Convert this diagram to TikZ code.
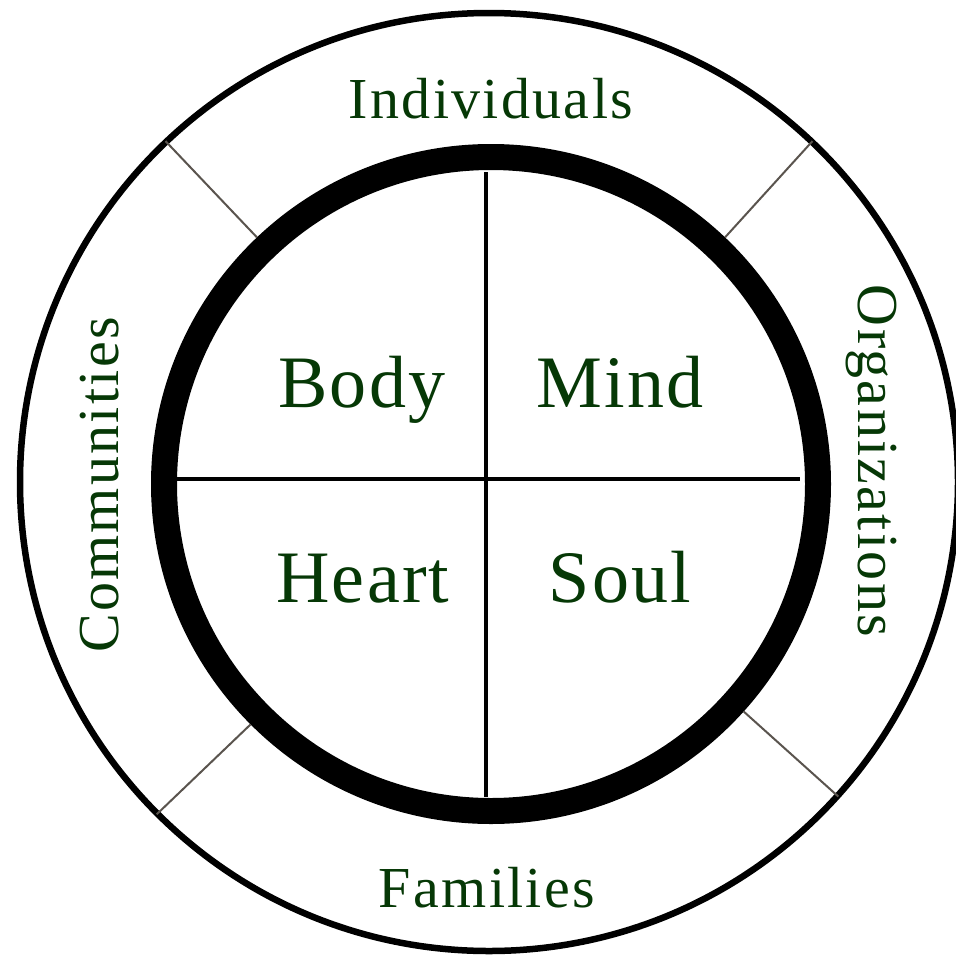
\documentclass[tikz,border=0pt]{standalone}
\usepackage{fontspec}
\setmainfont{Liberation Serif}
\usetikzlibrary{calc}
\definecolor{wlGreen}{HTML}{063806}
\definecolor{wlGrey}{HTML}{5A544E}
\tikzset{
  ring/.style={draw=black, line width=6.5pt},
  core/.style={draw=black, line width=26pt},
  split/.style={draw=black, line width=4pt},
  spoke/.style={draw=wlGrey, line width=2pt},
  part/.style={text=wlGreen, inner sep=0pt, anchor=base, font=\fontsize{74}{80}\selectfont\addfontfeature{LetterSpace=3}},
  sphere/.style={part, font=\fontsize{58}{64}\selectfont\addfontfeature{LetterSpace=4}},
}
\begin{document}
\begin{tikzpicture}[x=1pt, y=-1pt]
    \useasboundingbox (0,0) rectangle (956,956);
    \clip (0,0) rectangle (956,956);
    \coordinate (rim) at (489,482);
    \coordinate (mid) at (491,484);
    \draw[ring] (rim) circle[radius=469pt];
    \draw[core] (mid) circle[radius=327pt];
    % quarters
    \coordinate (top) at (486,172);
    \coordinate (bot) at (486,797);
    \coordinate (lft) at (177,479);
    \coordinate (rgt) at (800,479);
    \draw[split] (top) -- (bot);
    \draw[split] (lft) -- (rgt);
    \foreach \a in {133.5,46.5,-42,-135} \draw[spoke] ($(mid)+(\a:340pt)$) -- ($(rim)+(\a:470pt)$);
    \node[part] (body) at (362,407) {Body};
    \node[part] (mind) at (620,407) {Mind};
    \node[part] (heart) at (363,602) {Heart};
    \node[part] (soul) at (620,602) {Soul};
    \node[sphere] (indiv) at (491,118) {Individuals};
    \node[sphere] (fam) at (487,907) {Families};
    \node[sphere, rotate=90] (comm) at (118,485) {Communities};
    \node[sphere, rotate=-90] (org) at (858,461) {Organizations};
\end{tikzpicture}
\end{document}
